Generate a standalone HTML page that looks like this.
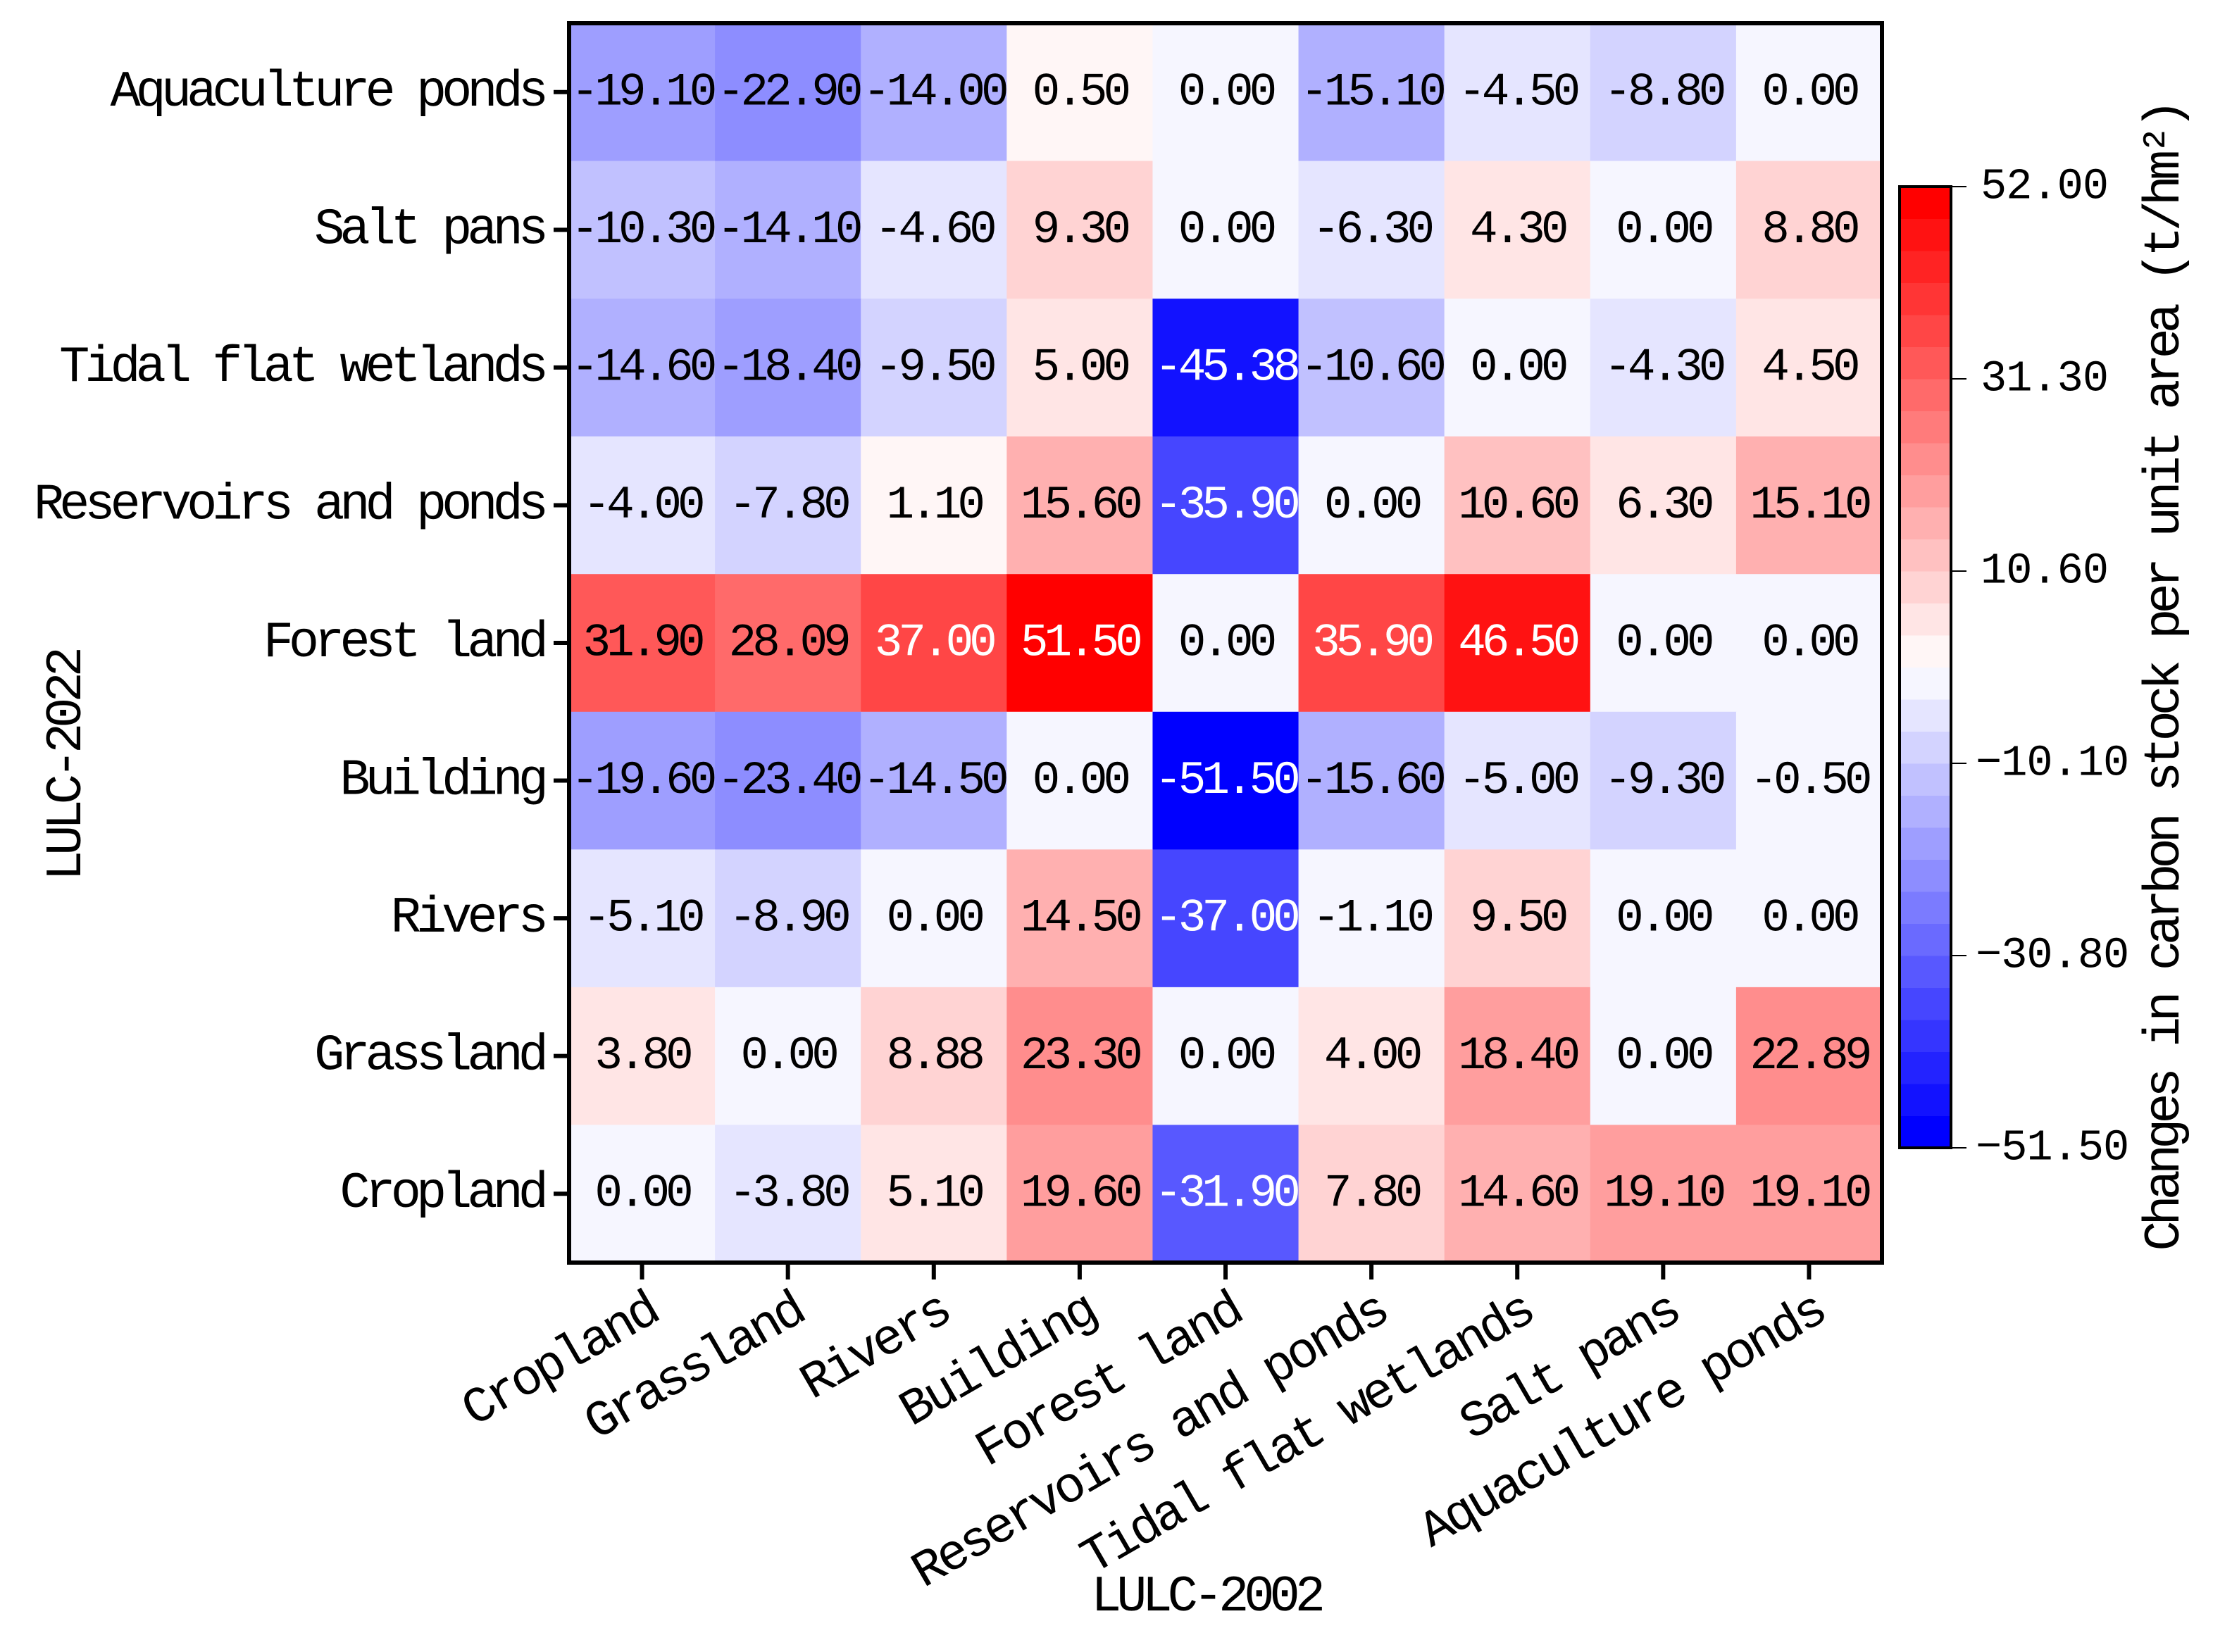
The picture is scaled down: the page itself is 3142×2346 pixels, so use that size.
<!DOCTYPE html>
<html><head><meta charset="utf-8"><style>
html,body{margin:0;padding:0;background:#fff;}
svg text{font-family:"Liberation Mono","Noto Serif CJK SC",monospace;fill:#000;}
</style></head><body>
<svg id="chart" width="3142" height="2341" viewBox="0 0 3142 2341" xmlns="http://www.w3.org/2000/svg">
<g id="cells"></g>
<g id="axes"></g>
<g id="cbar"></g>
</svg>
<script>
const rowLabels = ["Aquaculture ponds","Salt pans","Tidal flat wetlands","Reservoirs and ponds","Forest land","Building","Rivers","Grassland","Cropland"];
const colLabels = ["Cropland","Grassland","Rivers","Building","Forest land","Reservoirs and ponds","Tidal flat wetlands","Salt pans","Aquaculture ponds"];
const values = [
 [-19.10,-22.90,-14.00,0.50,0.00,-15.10,-4.50,-8.80,0.00],
 [-10.30,-14.10,-4.60,9.30,0.00,-6.30,4.30,0.00,8.80],
 [-14.60,-18.40,-9.50,5.00,-45.38,-10.60,0.00,-4.30,4.50],
 [-4.00,-7.80,1.10,15.60,-35.90,0.00,10.60,6.30,15.10],
 [31.90,28.09,37.00,51.50,0.00,35.90,46.50,0.00,0.00],
 [-19.60,-23.40,-14.50,0.00,-51.50,-15.60,-5.00,-9.30,-0.50],
 [-5.10,-8.90,0.00,14.50,-37.00,-1.10,9.50,0.00,0.00],
 [3.80,0.00,8.88,23.30,0.00,4.00,18.40,0.00,22.89],
 [0.00,-3.80,5.10,19.60,-31.90,7.80,14.60,19.10,19.10]
];
const cbTicks = [52.00,31.30,10.60,-10.10,-30.80,-51.50];
const vmin = -51.5, vmax = 52.0, nBands = 30;

const NS="http://www.w3.org/2000/svg";
function mk(tag,attrs,parent){const e=document.createElementNS(NS,tag);for(const k in attrs)e.setAttribute(k,attrs[k]);parent.appendChild(e);return e;}
const X0=808,Y0=33,W=1864,H=1760;
const cw=W/colLabels.length, ch=H/rowLabels.length;
const xPos=i=>X0+i*cw, yPos=j=>Y0+j*ch;
function bandOf(v){let n=(v-vmin)/(vmax-vmin);let b=Math.floor(n*nBands);return Math.max(0,Math.min(nBands-1,b));}
function bwr(t){let r,g,b;if(t<0.5){r=g=2*t;b=1;}else{r=1;g=b=2-2*t;}return `rgb(${Math.round(r*255)},${Math.round(g*255)},${Math.round(b*255)})`;}
function colorOf(v){return bwr(bandOf(v)/(nBands-1));}
const fmt=v=>(v<0?"-":"")+Math.abs(v).toFixed(2);

const cells=document.getElementById('cells');
values.forEach((row,j)=>row.forEach((v,i)=>{
  const r=mk('rect',{x:xPos(i),y:yPos(j),width:cw+0.5,height:ch+0.5,fill:colorOf(v)},cells);
  
  
  const b=bandOf(v);
  const t=mk('text',{x:xPos(i)+cw/2,y:yPos(j)+ch/2,'text-anchor':'middle','dominant-baseline':'central','font-size':66,'letter-spacing':'-6'},cells);
  t.style.fill=(b<=5||b>=25)?'#fff':'#000';
  t.textContent=fmt(v);
  
  
}));

const axes=document.getElementById('axes');
const frame=mk('rect',{x:X0,y:Y0,width:W,height:H,fill:'none',stroke:'#000','stroke-width':6},axes);


rowLabels.forEach((l,j)=>{
  const cy=yPos(j)+ch/2;
  const tk=mk('line',{x1:X0-22,x2:X0,y1:cy,y2:cy,stroke:'#000','stroke-width':6},axes);
  
  
  const t=mk('text',{x:772,y:cy,'text-anchor':'end','dominant-baseline':'central','font-size':72,'letter-spacing':'-7'},axes);
  t.textContent=l;
  
  
});
colLabels.forEach((l,i)=>{
  const cx=xPos(i)+cw/2;
  const tk=mk('line',{x1:cx,x2:cx,y1:Y0+H,y2:Y0+H+24,stroke:'#000','stroke-width':6},axes);
  
  
  const t=mk('text',{'text-anchor':'end','font-size':72,'letter-spacing':'-5',transform:`translate(${cx+26},${Y0+H+80}) rotate(-30)`},axes);
  t.textContent=l;
  
  
});
const xt=mk('text',{x:1712,y:2268,'text-anchor':'middle','dominant-baseline':'central','font-size':72,'letter-spacing':'-7'},axes);
xt.textContent='LULC-2002';


const yt=mk('text',{'text-anchor':'middle','dominant-baseline':'central','font-size':72,'letter-spacing':'-7',transform:'translate(95,1088) rotate(-90)'},axes);
yt.textContent='LULC-2022';



const cb=document.getElementById('cbar');
const CX=2697,CW=73,CY0=265,CY1=1630;
const bh=(CY1-CY0)/nBands;
for(let k=0;k<nBands;k++){
  const r=mk('rect',{x:CX,y:CY1-(k+1)*bh,width:CW,height:bh+0.5,fill:bwr(k/(nBands-1))},cb);
  
  
}
const cf=mk('rect',{x:CX,y:CY0,width:CW,height:CY1-CY0,fill:'none',stroke:'#000','stroke-width':4},cb);


const cyOf=v=>CY1-(v-vmin)/(vmax-vmin)*(CY1-CY0);
cbTicks.forEach(v=>{
  const y=cyOf(v);
  const tk=mk('line',{x1:CX+CW,x2:CX+CW+22,y1:y,y2:y,stroke:'#000','stroke-width':2},cb);
  
  
  const t=mk('text',{x:v<0?2805:2812,y:y,'dominant-baseline':'central','font-size':62,'letter-spacing':'-1'},cb);
  t.textContent=(v<0?'\u2212':'')+Math.abs(v).toFixed(2);
  
  
});
const ct=mk('text',{'text-anchor':'middle','dominant-baseline':'central','font-size':72,'letter-spacing':'-7',transform:'translate(3074,962) rotate(-90)'},cb);
ct.textContent='Changes in carbon stock per unit area (t/hm²)';


</script>
</body></html>
